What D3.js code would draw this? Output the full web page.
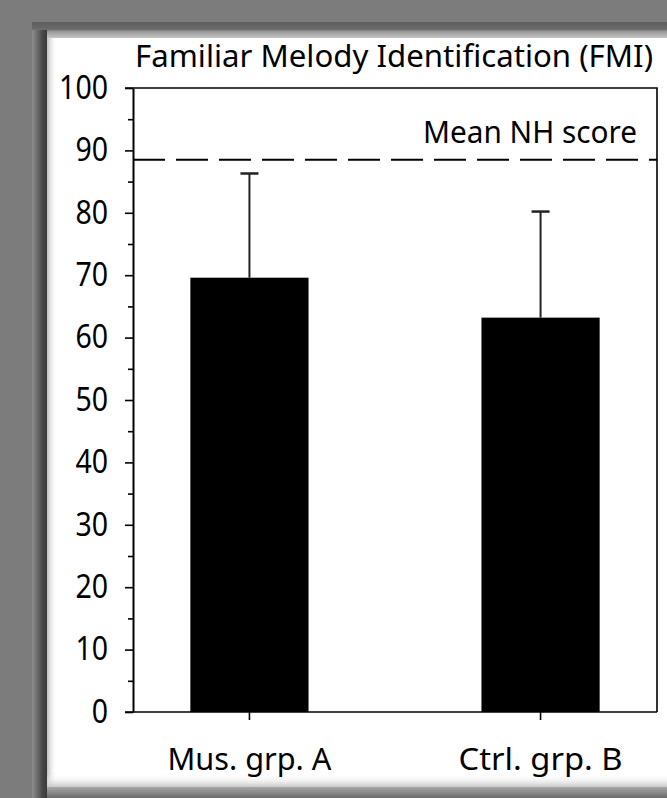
<!DOCTYPE html>
<html>
<head>
<meta charset="utf-8">
<script src="https://cdn.jsdelivr.net/npm/d3@7"></script>
<style>
  html, body { margin: 0; padding: 0; background: #7c7c7c; }
  svg { display: block; }
  text { font-family: "Noto Sans", "Open Sans", sans-serif; fill: #000; }
</style>
</head>
<body>
<script>
var groups = ['Mus. grp. A', 'Ctrl. grp. B'];
var means = [69.6, 63.2];
var errUp = [16.7, 17.0];
var nhMean = 88.5;
var yTicks = [0, 10, 20, 30, 40, 50, 60, 70, 80, 90, 100];
var yMinor = [5, 15, 25, 35, 45, 55, 65, 75, 85, 95];
var title = 'Familiar Melody Identification (FMI)';
var nhLabel = 'Mean NH score';

var width = 667;
var height = 798;

var svg = d3.select('body').append('svg')
    .attr('width', width)
    .attr('height', height);

var defs = svg.append('defs');

// gradients for the picture frame
var gTop = defs.append('linearGradient').attr('id', 'gTop').attr('x1', 0).attr('y1', 0).attr('x2', 0).attr('y2', 1);
gTop.append('stop').attr('offset', '0%').attr('stop-color', '#5e5e5e');
gTop.append('stop').attr('offset', '45%').attr('stop-color', '#6a6a6a');
gTop.append('stop').attr('offset', '60%').attr('stop-color', '#9a9a9a');
gTop.append('stop').attr('offset', '100%').attr('stop-color', '#c4c4c4');

var gLeft = defs.append('linearGradient').attr('id', 'gLeft').attr('x1', 0).attr('y1', 0).attr('x2', 1).attr('y2', 0);
gLeft.append('stop').attr('offset', '0%').attr('stop-color', '#8e8e8e');
gLeft.append('stop').attr('offset', '35%').attr('stop-color', '#6c6c6c');
gLeft.append('stop').attr('offset', '70%').attr('stop-color', '#474747');
gLeft.append('stop').attr('offset', '100%').attr('stop-color', '#3a3a3a');

var gInL = defs.append('linearGradient').attr('id', 'gInL').attr('x1', 0).attr('y1', 0).attr('x2', 1).attr('y2', 0);
gInL.append('stop').attr('offset', '0%').attr('stop-color', '#bdbdbd');
gInL.append('stop').attr('offset', '100%').attr('stop-color', '#ffffff').attr('stop-opacity', 0);

var gInB = defs.append('linearGradient').attr('id', 'gInB').attr('x1', 0).attr('y1', 0).attr('x2', 0).attr('y2', 1);
gInB.append('stop').attr('offset', '0%').attr('stop-color', '#ffffff').attr('stop-opacity', 0);
gInB.append('stop').attr('offset', '100%').attr('stop-color', '#c8c8c8');

var gBot = defs.append('linearGradient').attr('id', 'gBot').attr('x1', 0).attr('y1', 0).attr('x2', 0).attr('y2', 1);
gBot.append('stop').attr('offset', '0%').attr('stop-color', '#a8a8a8');
gBot.append('stop').attr('offset', '100%').attr('stop-color', '#6a6a6a');

var frame = svg.append('g').attr('class', 'frame');
frame.append('rect').attr('x', 0).attr('y', 0).attr('width', width).attr('height', height).attr('fill', '#7c7c7c');
frame.append('rect').attr('x', 32).attr('y', 22).attr('width', width - 32).attr('height', height - 22).attr('fill', '#858585');
frame.append('rect').attr('x', 32).attr('y', 22).attr('width', width - 32).attr('height', 16).attr('fill', 'url(#gTop)');
frame.append('rect').attr('x', 32).attr('y', 30).attr('width', 15).attr('height', height - 30).attr('fill', 'url(#gLeft)');
frame.append('rect').attr('x', 47).attr('y', 787).attr('width', width - 47).attr('height', 11).attr('fill', 'url(#gBot)');
frame.append('rect').attr('x', 47).attr('y', 38).attr('width', width - 47).attr('height', 749).attr('fill', '#fff');
frame.append('rect').attr('x', 47).attr('y', 38).attr('width', 10).attr('height', 749).attr('fill', 'url(#gInL)');
frame.append('rect').attr('x', 47).attr('y', 774).attr('width', width - 47).attr('height', 13).attr('fill', 'url(#gInB)');

// chart area
var x0 = 133, x1 = 657, yTop = 88, yBot = 712;

var x = d3.scaleBand()
    .domain(groups)
    .range([x0, x1])
    .paddingInner(0.594)
    .paddingOuter(0.197);

var y = d3.scaleLinear()
    .domain([0, 100])
    .range([yBot, yTop]);

var chart = svg.append('g');

// bars
chart.selectAll('rect.bar')
    .data(groups)
    .enter().append('rect')
    .attr('class', 'bar')
    .attr('x', function (d) { return x(d); })
    .attr('width', x.bandwidth())
    .attr('y', function (d, i) { return y(means[i]); })
    .attr('height', function (d, i) { return y(0) - y(means[i]); })
    .attr('fill', '#000');

// error bars (upper only)
var err = chart.selectAll('g.err')
    .data(groups)
    .enter().append('g')
    .attr('class', 'err')
    .attr('stroke', '#222')
    .attr('stroke-width', 2);

err.append('line')
    .attr('x1', function (d) { return x(d) + x.bandwidth() / 2; })
    .attr('x2', function (d) { return x(d) + x.bandwidth() / 2; })
    .attr('y1', function (d, i) { return y(means[i]); })
    .attr('y2', function (d, i) { return y(means[i] + errUp[i]); });

err.append('line')
    .attr('x1', function (d) { return x(d) + x.bandwidth() / 2 - 9; })
    .attr('x2', function (d) { return x(d) + x.bandwidth() / 2 + 9; })
    .attr('y1', function (d, i) { return y(means[i] + errUp[i]); })
    .attr('y2', function (d, i) { return y(means[i] + errUp[i]); })
    .attr('stroke-width', 2.5);

// mean NH dashed line
chart.append('line')
    .attr('x1', x0).attr('x2', x1)
    .attr('y1', y(nhMean)).attr('y2', y(nhMean))
    .attr('stroke', '#000')
    .attr('stroke-width', 2)
    .attr('stroke-dasharray', '32,11');

chart.append('text')
    .attr('x', 423)
    .attr('y', 143)
    .attr('font-size', 31)
    .attr('textLength', 214)
    .attr('lengthAdjust', 'spacingAndGlyphs')
    .text(nhLabel);

// plot box: top and right
chart.append('path')
    .attr('d', d3.line()([[x0 - 8, yTop], [x1, yTop], [x1, yBot]]))
    .attr('fill', 'none')
    .attr('stroke', '#000')
    .attr('stroke-width', 1.6);

// y axis
var yAxis = chart.append('g')
    .attr('transform', 'translate(' + x0 + ',0)')
    .call(d3.axisLeft(y).tickValues(yTicks).tickSize(8).tickPadding(17).tickSizeOuter(0));
yAxis.select('.domain').attr('stroke', '#000').attr('stroke-width', 2);
yAxis.selectAll('.tick line').attr('stroke', '#000').attr('stroke-width', 1.6);
yAxis.selectAll('.tick text')
    .attr('font-size', 32)
    .attr('font-family', '"Noto Sans", sans-serif')
    .attr('fill', '#000')
    .attr('textLength', function (d) { return String(d).length * 16.3; })
    .attr('lengthAdjust', 'spacingAndGlyphs');

var yAxisMinor = chart.append('g')
    .attr('transform', 'translate(' + x0 + ',0)')
    .call(d3.axisLeft(y).tickValues(yMinor).tickSize(5).tickFormat(''));
yAxisMinor.select('.domain').remove();
yAxisMinor.selectAll('.tick line').attr('stroke', '#000').attr('stroke-width', 1.6);

// x axis
var xAxis = chart.append('g')
    .attr('transform', 'translate(0,' + yBot + ')')
    .call(d3.axisBottom(x).tickSize(8).tickPadding(22).tickSizeOuter(0));
xAxis.select('.domain').attr('stroke', '#000').attr('stroke-width', 1.6)
    .attr('d', 'M' + (x0 - 8) + ',0H' + x1);
xAxis.selectAll('.tick line').attr('stroke', '#000').attr('stroke-width', 1.6);
xAxis.selectAll('.tick text')
    .attr('font-size', 31)
    .attr('font-family', '"Noto Sans", sans-serif')
    .attr('fill', '#000')
    .attr('dy', 0)
    .attr('y', 58)
    .attr('textLength', 164)
    .attr('lengthAdjust', 'spacingAndGlyphs');

// title
svg.append('text')
    .attr('x', 135)
    .attr('y', 67)
    .attr('font-size', 31)
    .attr('textLength', 518)
    .attr('lengthAdjust', 'spacingAndGlyphs')
    .text(title);
</script>
</body>
</html>
